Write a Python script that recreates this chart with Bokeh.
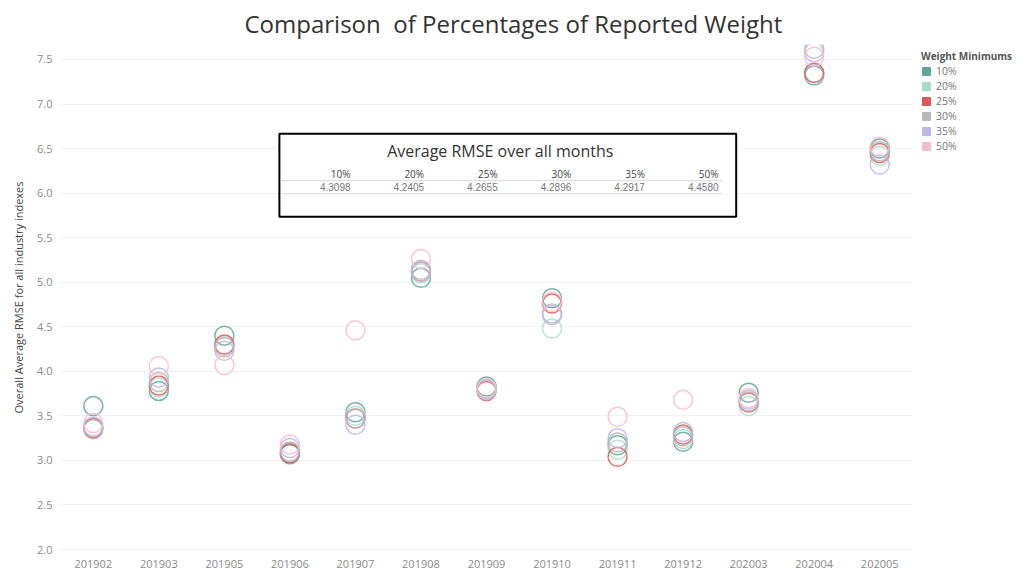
from bokeh.plotting import figure
from bokeh.layouts import row
from bokeh.models import (FactorRange, Range1d, SingleIntervalTicker, Legend, LegendItem,
                          ColumnDataSource, Title, NumeralTickFormatter, Spacer)
from bokeh.core.properties import value
from bokeh.embed import file_html
from bokeh.resources import INLINE

months = ["201902", "201903", "201905", "201906", "201907", "201908", "201909",
          "201910", "201911", "201912", "202003", "202004", "202005"]
series_names = ["10%", "20%", "25%", "30%", "35%", "50%"]
colors = ["#5fa699", "#a8ddcc", "#e05757", "#b9b9b9", "#bdb7e6", "#f8bdcd"]

rmse_10 = [3.61, 3.78, 4.40, 3.07, 3.54, 5.05, 3.83, 4.82, 3.17, 3.21, 3.76, 7.32, 6.50]
rmse_20 = [3.37, 3.82, 4.28, 3.09, 3.50, 5.10, 3.81, 4.48, 3.12, 3.24, 3.61, 7.34, 6.42]
rmse_25 = [3.36, 3.84, 4.30, 3.08, 3.47, 5.12, 3.78, 4.76, 3.04, 3.29, 3.65, 7.35, 6.45]
rmse_30 = [3.35, 3.88, 4.27, 3.10, 3.47, 5.14, 3.80, 4.65, 3.20, 3.27, 3.66, 7.62, 6.47]
rmse_35 = [3.38, 3.93, 4.23, 3.14, 3.40, 5.12, 3.79, 4.63, 3.25, 3.32, 3.68, 7.58, 6.32]
rmse_50 = [3.42, 4.06, 4.07, 3.18, 4.46, 5.26, 3.81, 4.78, 3.49, 3.68, 3.70, 7.53, 6.52]
series_values = [rmse_10, rmse_20, rmse_25, rmse_30, rmse_35, rmse_50]

avg_labels = ["10%", "20%", "25%", "30%", "35%", "50%"]
avg_values = ["4.3098", "4.2405", "4.2655", "4.2896", "4.2917", "4.4580"]

FONT = "Open Sans"

fig = figure(x_range=FactorRange(factors=months), y_range=Range1d(1.989, 7.668),
             frame_width=852, frame_height=506, output_backend="svg", toolbar_location=None,
             min_border_left=0, min_border_right=0, min_border_top=0, min_border_bottom=0)
fig.title = None
fig.add_layout(Title(text="Comparison \u00a0of Percentages of Reported Weight", align="left",
                     text_font=FONT, text_font_size="24px", text_font_style="normal",
                     text_color="#333333", offset=184, standoff=9), "above")
fig.outline_line_color = None
fig.background_fill_color = "white"
fig.border_fill_color = "white"

# axes
fig.xaxis.axis_line_color = None
fig.xaxis.major_tick_line_color = None
fig.xaxis.minor_tick_line_color = None
fig.xaxis.major_label_text_font = FONT
fig.xaxis.major_label_text_font_size = "11px"
fig.xaxis.major_label_text_color = "#8a8a8a"
fig.xaxis.major_label_standoff = 3
fig.xgrid.grid_line_color = None

fig.yaxis.ticker = SingleIntervalTicker(interval=0.5)
fig.yaxis.formatter = NumeralTickFormatter(format="0.0")
fig.yaxis.axis_line_color = None
fig.yaxis.major_tick_line_color = None
fig.yaxis.minor_tick_line_color = None
fig.yaxis.major_label_text_font = FONT
fig.yaxis.major_label_text_font_size = "11px"
fig.yaxis.major_label_text_color = "#8a8a8a"
fig.yaxis.major_label_standoff = 2
fig.yaxis.axis_label = "Overall Average RMSE for all industry indexes"
fig.yaxis.axis_label_text_font = FONT
fig.yaxis.axis_label_text_font_size = "11px"
fig.yaxis.axis_label_text_font_style = "normal"
fig.yaxis.axis_label_text_color = "#444444"
fig.yaxis.axis_label_standoff = 8
fig.ygrid.ticker = SingleIntervalTicker(interval=0.5)
fig.ygrid.grid_line_color = "#f2f2f2"

# scatter circles
for name, vals, c in zip(series_names, series_values, colors):
    src = ColumnDataSource(dict(x=months, y=vals))
    fig.scatter("x", "y", source=src, marker="circle", size=19, fill_color=None,
                line_color=c, line_width=1.5, line_alpha=0.85)

# inset table (drawn in synthetic categorical coordinates)
fig.quad(left=[3.34], right=[10.31], top=[6.666], bottom=[5.735], fill_color="white",
         line_color="black", line_width=2)
fig.text(x=[6.71], y=[6.475], text=["Average RMSE over all months"], text_font=value(FONT),
         text_font_size="16px", text_color="#333333", text_align="center", text_baseline="middle")
col_x = [4.425 + i * 1.123 for i in range(len(avg_labels))]
fig.text(x=col_x, y=[6.217] * len(col_x), text=avg_labels, text_font=value(FONT),
         text_font_size="10px", text_color="#444444", text_align="right", text_baseline="middle")
fig.text(x=col_x, y=[6.072] * len(col_x), text=avg_values, text_font=value("Liberation Sans"),
         text_font_size="10px", text_color="#777777", text_align="right", text_baseline="middle")
fig.segment(x0=[3.356, 3.356], x1=[10.10, 10.10], y0=[6.139, 5.993], y1=[6.139, 5.993],
            line_color="#d8d8d8", line_width=1)

# legend (filled squares)
items = []
for name, c in zip(series_names, colors):
    r = fig.quad(left=[0.0], right=[0.0], top=[float("nan")], bottom=[float("nan")],
                 fill_color=c, line_color=c)
    items.append(LegendItem(label=name, renderers=[r]))
legend = Legend(items=items, location=(9, 397), title="Weight Minimums",
                title_text_font=FONT, title_text_font_size="10px", title_text_font_style="bold",
                title_text_color="#555555", label_text_font=FONT, label_text_font_size="10.5px",
                label_text_color="#777777", border_line_color=None, background_fill_alpha=0,
                glyph_width=10, glyph_height=10, label_height=10, spacing=1, padding=0,
                margin=8, title_standoff=1, label_standoff=5)
fig.add_layout(legend, "right")

p = row(Spacer(width=8), fig)
open("out.html", "w").write(file_html(p, INLINE))
